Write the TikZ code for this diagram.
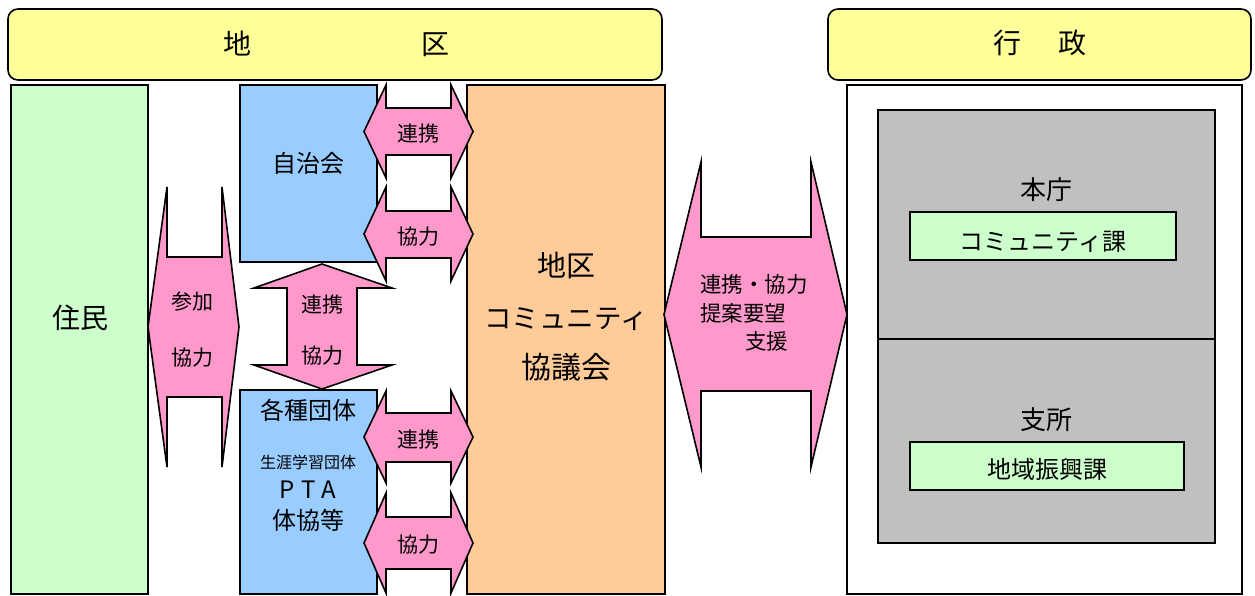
\documentclass[tikz,border=0pt]{standalone}
\usepackage{fontspec}
\setmainfont{Noto Sans CJK JP}
\definecolor{cyellow}{HTML}{FFFF99}
\definecolor{cgreen}{HTML}{CCFFCC}
\definecolor{cblue}{HTML}{99CCFF}
\definecolor{corange}{HTML}{FFCC99}
\definecolor{cpink}{HTML}{FF99CC}
\definecolor{cgray}{HTML}{C0C0C0}
\newcommand\myfs[2]{\fontsize{#1pt}{#2pt}\selectfont}
% horizontal double block arrow: tipL, baseL, baseR, tipR, headTop, shaftTop, shaftBot, headBot
\newcommand\myLR[8]{\filldraw[arr] (#1,{(#5+#8)/2}) -- (#2,#5) -- (#2,#6) -- (#3,#6) -- (#3,#5) -- (#4,{(#5+#8)/2}) -- (#3,#8) -- (#3,#7) -- (#2,#7) -- (#2,#8) -- cycle;}
\begin{document}
\begin{tikzpicture}[x=1pt,y=-1pt,
  box/.style={draw=black,line width=1.6pt},
  arr/.style={draw=black,line width=1.6pt,fill=cpink,line join=miter},
  txt/.style={inner sep=0pt,text=black,align=center}]
\useasboundingbox (0,0) rectangle (1255,596);
% title boxes
\draw[box,fill=cyellow,rounded corners=10pt] (8,9) rectangle (662,80);
\node[txt,font=\myfs{28}{30}] (tchiku) at (336,44) {地\hspace{170pt}区};
\draw[box,fill=cyellow,rounded corners=10pt] (828,9) rectangle (1251,80);
\node[txt,font=\myfs{28}{30}] (tgyosei) at (1040,43) {行\hspace{37pt}政};
% left column boxes
\draw[box,fill=cgreen] (11,85) rectangle (148,594);
\node[txt,font=\myfs{28}{30}] (jumin) at (80,318) {住民};
\draw[box,fill=cblue] (240,85) rectangle (377,262);
\node[txt,font=\myfs{24}{26}] (jichikai) at (308,163) {自治会};
\draw[box,fill=cblue] (240,390) rectangle (377,594);
\node[txt,font=\myfs{24}{26}] (kakushu) at (308,410) {各種団体};
\node[txt,font=\myfs{16}{18}] (shogai) at (308,462) {生涯学習団体};
\node[txt,font=\myfs{24}{26}] (pta) at (308,490) {P\kern6pt T\kern6pt A};
\node[txt,font=\myfs{24}{26}] (taikyo) at (308,520) {体協等};
\draw[box,fill=corange] (467,85) rectangle (665,594);
\node[txt,font=\myfs{29}{31}] (kyogikai1) at (566,266) {地区};
\node[txt,font=\myfs{27.5}{30}] (kyogikai2) at (566,319) {コミュニティ};
\node[txt,font=\myfs{30}{32}] (kyogikai3) at (566,367) {協議会};
% administration
\draw[box,fill=white] (847,85) rectangle (1242,594);
\draw[box,fill=cgray] (878,110) rectangle (1215,339);
\draw[box,fill=cgray] (878,339) rectangle (1215,543);
\node[txt,font=\myfs{26}{28}] (honcho) at (1046,190) {本庁};
\draw[box,fill=cgreen] (910,212) rectangle (1176,260);
\node[txt,font=\myfs{24}{26}] (comka) at (1043,242) {コミュニティ課};
\node[txt,font=\myfs{26}{28}] (shisho) at (1046,420) {支所};
\draw[box,fill=cgreen] (910,442) rectangle (1184,490);
\node[txt,font=\myfs{24}{26}] (chiiki) at (1047,469) {地域振興課};
% arrows
\myLR{148}{167}{222}{239}{187}{257}{397}{467}
\node[txt,font=\myfs{21}{56}] (sanka) at (192,330) {参加\\協力};
\myLR{364}{386}{451}{473}{85}{108}{155}{178}
\node[txt,font=\myfs{21}{23}] (renkei1) at (418,134) {連携};
\myLR{364}{386}{451}{473}{187}{211}{258}{281}
\node[txt,font=\myfs{21}{23}] (kyoryoku1) at (418,237) {協力};
\myLR{364}{386}{451}{473}{391}{413}{462}{483}
\node[txt,font=\myfs{21}{23}] (renkei2) at (418,440) {連携};
\myLR{364}{386}{451}{473}{493}{517}{569}{593}
\node[txt,font=\myfs{21}{23}] (kyoryoku2) at (418,545) {協力};
\myLR{664}{701}{811}{847}{162}{237}{391}{467}
\node[txt,align=left,anchor=west,font=\myfs{21.5}{28.5}] (teian) at (700,313) {連携・協力\\提案要望\\\hspace{2.1em}支援};
% vertical double arrow
\filldraw[arr] (322,264) -- (392,288) -- (357,288) -- (357,365) -- (392,365) -- (322,389) -- (254,365) -- (287,365) -- (287,288) -- (254,288) -- cycle;
\node[txt,font=\myfs{21}{51}] (vrenkei) at (322,330) {連携\\協力};
\end{tikzpicture}
\end{document}
